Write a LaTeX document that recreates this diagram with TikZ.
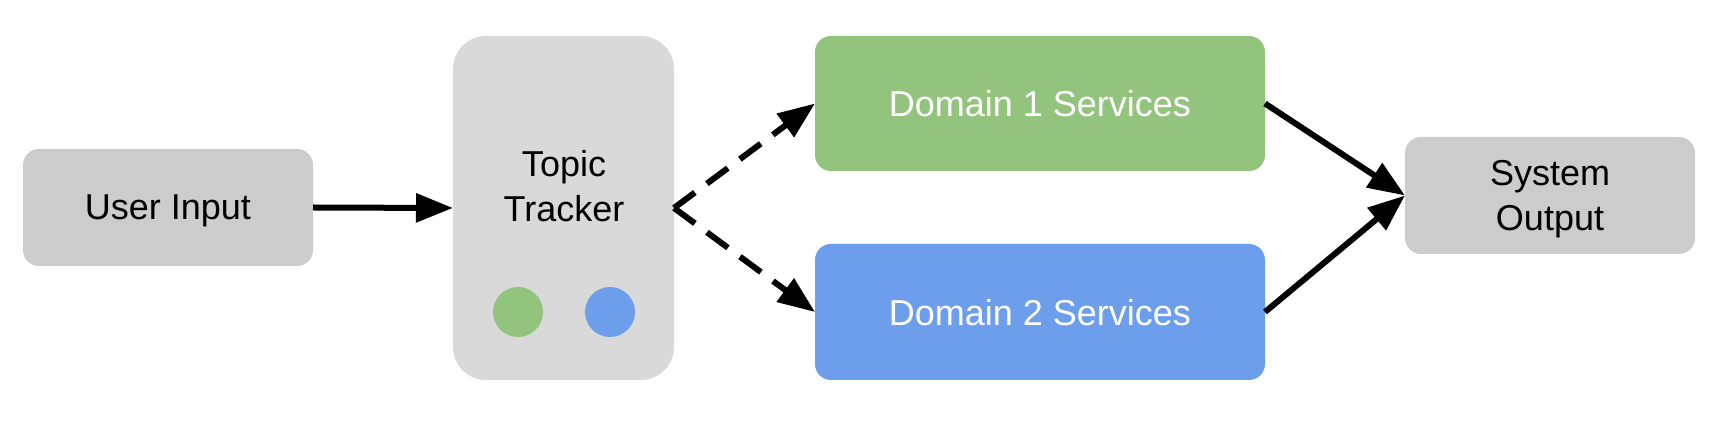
\documentclass[tikz,border=0pt]{standalone}
\usepackage{fontspec}
\setmainfont{Liberation Sans}
\usetikzlibrary{arrows.meta}
\definecolor{boxgray}{HTML}{CCCCCC}
\definecolor{trackgray}{HTML}{D9D9D9}
\definecolor{domgreen}{HTML}{93C47D}
\definecolor{domblue}{HTML}{6D9EEB}
\tikzset{
  box/.style={rounded corners=16pt,inner sep=0pt,outer sep=0pt,align=center,
    text depth=0pt,font=\fontsize{36}{45}\selectfont},
  flow/.style={line width=6pt,-{Triangle[length=37pt,width=28pt]}},
}
\begin{document}
\begin{tikzpicture}[x=1pt,y=1pt]
  \useasboundingbox (0,0) rectangle (1716,428);
  \node[box,fill=boxgray,minimum width=290pt,minimum height=117pt] (input) at (168,220.5) {User Input};
  \node[box,fill=trackgray,rounded corners=33pt,minimum width=221pt,minimum height=344pt] (tracker) at (563.5,220) {};
  \node[box] (trackerlabel) at (564,242) {Topic\\Tracker};
  \fill[domgreen] (518,116) circle (25pt) coordinate (dotone);
  \fill[domblue] (610,116) circle (25pt) coordinate (dottwo);
  \node[box,fill=domgreen,text=white,minimum width=450pt,minimum height=135pt] (domone) at (1040,324.5) {Domain 1 Services};
  \node[box,fill=domblue,text=white,minimum width=450pt,minimum height=136pt] (domtwo) at (1040,116) {Domain 2 Services};
  \node[box,fill=boxgray,minimum width=290pt,minimum height=117pt] (output) at (1550,232.5) {System\\Output};
  \draw[flow] (input.east) -- (tracker.west);
  \draw[flow,dash pattern=on 26pt off 15pt] (tracker.east) -- (domone.west);
  \draw[flow,dash pattern=on 26pt off 15pt] (tracker.east) -- (domtwo.west);
  \draw[flow] (domone.east) -- (output.west);
  \draw[flow] (domtwo.east) -- (output.west);
\end{tikzpicture}
\end{document}
